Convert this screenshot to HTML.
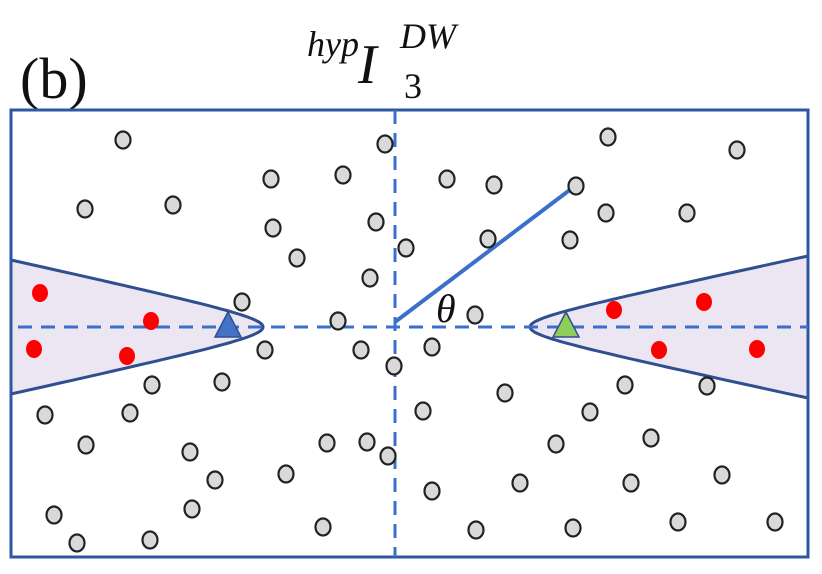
<!DOCTYPE html>
<html><head><meta charset="utf-8"><style>
html,body{margin:0;padding:0;background:#fff;}
svg{display:block;}
</style></head><body>
<svg id="chart" width="822" height="574" viewBox="0 0 822 574" xmlns="http://www.w3.org/2000/svg">
<text x="20" y="98" font-family="Liberation Serif, serif" font-size="58" fill="#111">(b)</text>
<g font-family="Liberation Serif, serif" font-style="italic" fill="#111">
<text x="307" y="56" font-size="36">hyp</text>
<text x="358" y="83" font-size="56">I</text>
<text x="400" y="48" font-size="36">DW</text>
<text x="404" y="98" font-size="36" font-style="normal">3</text>
</g>
<g id="regions"></g>
<rect x="11" y="110" width="797" height="447" fill="none" stroke="#2f56a0" stroke-width="3"/>
<line x1="395" y1="110" x2="395" y2="557" stroke="#3a70cc" stroke-width="3" stroke-dasharray="14,9"/>
<line x1="18" y1="327" x2="808" y2="327" stroke="#3a70cc" stroke-width="3" stroke-dasharray="14,9"/>
<line x1="395" y1="322" x2="575" y2="186" stroke="#3a70cc" stroke-width="4"/>
<text x="436" y="322" font-family="Liberation Serif, serif" font-style="italic" font-size="40" fill="#111">θ</text>
<g id="points"></g>
</svg>
<script>
const grayX=[123,385,608,737,271,343,447,494,576,85,173,606,687,376,273,488,570,406,297,370,242,338,475,265,361,432,394,152,222,505,423,45,130,590,707,625,388,86,190,327,367,556,651,215,286,432,520,631,722,192,54,77,150,323,476,573,678,775];
const grayY=[140,144,137,150,179,175,179,185,186,209,205,213,213,222,228,239,240,248,258,278,302,321,315,350,350,347,366,385,382,393,411,415,413,412,386,385,456,445,452,443,442,444,438,480,474,491,483,483,475,509,515,543,540,527,530,528,522,522];
const redX=[40,151,34,127,614,704,659,757];
const redY=[293,321,349,356,310,302,350,349];
const triX=[228,566];
const triColors=['#4472c4','#8fce5a'];
const NS='http://www.w3.org/2000/svg';
const axisY=327;
const reg=document.getElementById('regions');
function hyper(vx,edgeX,halfOpen,name){
 const a=60, dir=Math.sign(edgeX-vx), D=Math.abs(edgeX-vx);
 const ratio=(D+a)/a, b=halfOpen/Math.sqrt(ratio*ratio-1);
 const tMax=Math.acosh(ratio), pts=[];
 for(let i=-40;i<=40;i++){
  const t=tMax*i/40;
  pts.push((vx+dir*a*(Math.cosh(t)-1)).toFixed(1)+','+(axisY+b*Math.sinh(t)).toFixed(1));
 }
 const p=document.createElementNS(NS,'path');
 p.setAttribute('d','M'+pts.join(' L')+' Z');
 p.setAttribute('fill','#ece6f3');p.setAttribute('stroke','#2f4f8f');p.setAttribute('stroke-width','3');
 
 
 reg.appendChild(p);
}
hyper(263,11,67,'left-hyperbola-region');
hyper(530,808,71,'right-hyperbola-region');
const g=document.getElementById('points');
for(let i=0;i<grayX.length;i++){
 const e=document.createElementNS(NS,'ellipse');
 e.setAttribute('cx',grayX[i]);e.setAttribute('cy',grayY[i]);e.setAttribute('rx',7.5);e.setAttribute('ry',8.5);
 e.setAttribute('fill','#d9d9d9');e.setAttribute('stroke','#222');e.setAttribute('stroke-width','2.2');
 
 
 g.appendChild(e);
}
for(let i=0;i<redX.length;i++){
 const e=document.createElementNS(NS,'ellipse');
 e.setAttribute('cx',redX[i]);e.setAttribute('cy',redY[i]);e.setAttribute('rx',8);e.setAttribute('ry',9);
 e.setAttribute('fill','#ff0000');
 
 
 g.appendChild(e);
}
for(let i=0;i<triX.length;i++){
 const t=document.createElementNS(NS,'polygon');
 const x=triX[i];
 t.setAttribute('points',`${x},${axisY-15} ${x-13},${axisY+10} ${x+13},${axisY+10}`);
 t.setAttribute('fill',triColors[i]);t.setAttribute('stroke','#2f4f8f');t.setAttribute('stroke-width','1.5');
 
 
 g.appendChild(t);
}
</script>
</body></html>
